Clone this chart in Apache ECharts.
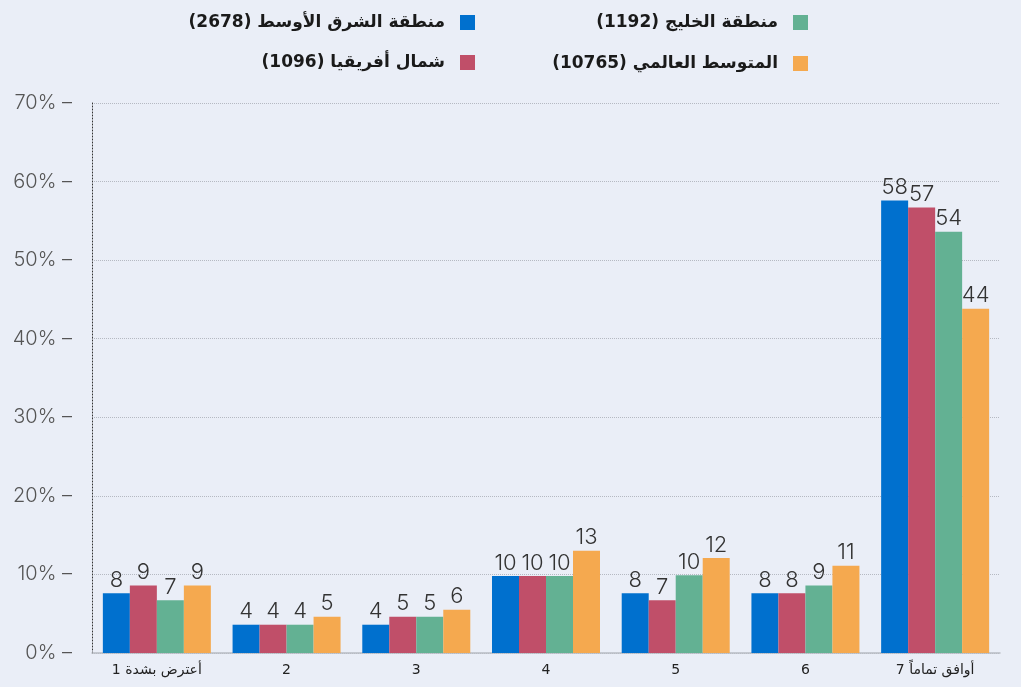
<!DOCTYPE html>
<html>
<head>
<meta charset="utf-8">
<script src="https://cdn.jsdelivr.net/npm/echarts@6/dist/echarts.min.js"></script>
<style>
  html, body { margin: 0; padding: 0; background: #eaeef7; }
  #chart { width: 1021px; height: 687px; }
</style>
</head>
<body>
<div id="chart"></div>
<script>
  // categories (x axis)
  const categories = ['أعترض بشدة 1', '2', '3', '4', '5', '6', 'أوافق تماماً 7'];
  // series names
  const nameME = 'منطقة الشرق الأوسط (2678)';
  const nameNA = 'شمال أفريقيا (1096)';
  const nameGulf = 'منطقة الخليج (1192)';
  const nameGlobal = 'المتوسط العالمي (10765)';
  // values in %
  const middleEast = [7.6, 3.6, 3.6, 9.8, 7.6, 7.6, 57.6];
  const northAfrica = [8.6, 3.6, 4.6, 9.8, 6.7, 7.6, 56.7];
  const gulf = [6.7, 3.6, 4.6, 9.8, 9.9, 8.6, 53.6];
  const globalAvg = [8.6, 4.6, 5.5, 13.0, 12.1, 11.1, 43.8];
  const yTicks = [0, 10, 20, 30, 40, 50, 60, 70];

  const colors = ['#0070ce', '#c04f69', '#63b193', '#f5a94f'];
  const numFont = 'Inter, "Open Sans", sans-serif';
  const arFont = '"DejaVu Sans", "Noto Sans", sans-serif';

  const myChart = echarts.init(document.getElementById('chart'));

  function legendAt(name, right, top) {
    return {
      data: [name],
      right: right,
      top: top,
      align: 'right',
      icon: 'rect',
      itemWidth: 15,
      itemHeight: 15,
      itemGap: 0,
      selectedMode: false,
      textStyle: {
        fontFamily: arFont,
        fontSize: 17,
        fontWeight: 'bold',
        color: '#1a1a1a',
        padding: [0, 10, 0, 0]
      }
    };
  }

  function barSeries(name, data) {
    return {
      name: name,
      type: 'bar',
      data: data,
      barWidth: 27,
      barGap: '0%',
      label: {
        show: true,
        position: 'top',
        distance: 2,
        fontFamily: numFont,
        fontWeight: 300,
        fontSize: 22,
        color: '#333',
        formatter: p => Math.round(p.value)
      }
    };
  }

  const option = {
    backgroundColor: '#eaeef7',
    color: colors,
    animation: false,
    legend: [
      legendAt(nameME, 541, 9),
      legendAt(nameGulf, 208, 9),
      legendAt(nameNA, 541, 49),
      legendAt(nameGlobal, 208, 50)
    ],
    grid: {
      left: 92,
      right: 21,
      top: 103,
      bottom: 34
    },
    xAxis: {
      type: 'category',
      data: categories,
      axisTick: { show: false },
      axisLine: { lineStyle: { color: '#b8bcc4', width: 1.5 } },
      axisLabel: {
        fontFamily: arFont,
        fontSize: 14,
        color: '#222',
        margin: 10
      }
    },
    yAxis: {
      type: 'value',
      min: 0,
      max: 70,
      interval: 10,
      axisLine: { show: true, lineStyle: { color: '#333', type: [1, 2] } },
      axisTick: { show: false },
      splitLine: { lineStyle: { color: '#b5b9c2', type: 'dotted' } },
      axisLabel: {
        fontFamily: numFont,
        fontWeight: 300,
        fontSize: 20,
        color: '#555',
        margin: 20,
        formatter: v => yTicks.includes(v) ? v + '% –' : ''
      }
    },
    series: [
      barSeries(nameME, middleEast),
      barSeries(nameNA, northAfrica),
      barSeries(nameGulf, gulf),
      barSeries(nameGlobal, globalAvg)
    ]
  };
  myChart.setOption(option);
</script>
</body>
</html>
